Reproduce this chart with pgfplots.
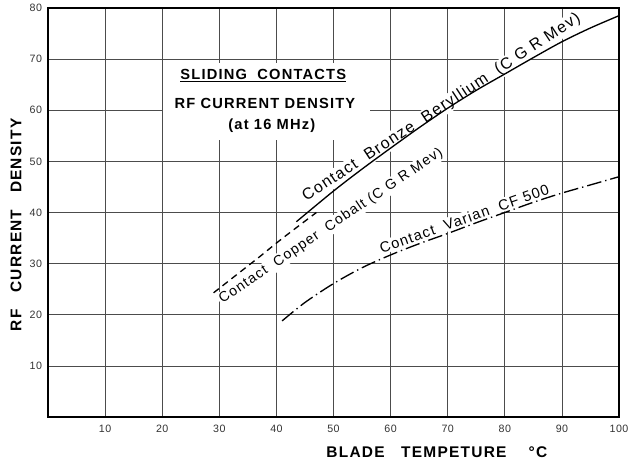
\documentclass[border=0pt]{standalone}
\usepackage{fontspec}
\setmainfont{Liberation Sans}
\newfontfamily\lsp[LetterSpace=8]{Liberation Sans}
\newfontfamily\tsp[LetterSpace=4]{Liberation Sans}
\usepackage{pgfplots}
\pgfplotsset{compat=1.18}
\pgfplotsset{common/.style={
  at={(0,0)}, anchor=south west,
  scale only axis, width=428.25pt, height=306.75pt,
  xmin=0, xmax=100, ymin=0, ymax=80}}
\begin{document}
\begin{tikzpicture}
\path[use as bounding box] (-36pt,-33.75pt) rectangle (441pt,312.75pt);
\begin{axis}[
  common,
  xtick={10,20,...,100}, ytick={10,20,...,80},
  major tick length=0pt,
  grid=major, grid style={line width=0.5pt, black!70},
  axis line style={line width=1.4pt},
  /pgf/number format/assume math mode=true,
  tick label style={font=\tsp\fontsize{8}{9}\selectfont, text=black!80},
  xticklabel style={yshift=-2.5pt},
  yticklabel style={xshift=-1pt},
  xlabel={\lsp\bfseries BLADE\ \ \ TEMPETURE\ \ \ \ °C},
  ylabel={\lsp\bfseries RF\ \ \ CURRENT\ \ \ DENSITY},
  label style={font=\fontsize{11.6}{13}\selectfont},
  xlabel style={at={(axis description cs:0.681,-0.086)}, anchor=center},
  ylabel style={at={(axis description cs:-0.056,0.47)}, anchor=center},
]
% white background of the title block (breaks the grid like the original)
\fill[white] (axis cs:20.1,54.2) rectangle (axis cs:56.4,69.2);
\node[font=\lsp\bfseries\fontsize{11}{13}\selectfont, anchor=center] at (axis cs:37.7,66.7) {\underline{SLIDING\ \ CONTACTS}};
\node[font=\lsp\bfseries\fontsize{11}{13}\selectfont, anchor=center] at (axis cs:38.0,61.3) {RF\ CURRENT\ DENSITY};
\node[font=\lsp\bfseries\fontsize{11}{13}\selectfont, anchor=center] at (axis cs:39.2,57.0) {(at 16 MHz)};
% curve labels
\node[font=\lsp\fontsize{12}{14}\selectfont, rotate=33.3, anchor=base west, inner sep=1pt, fill=white] at (axis cs:45.0,42.0) {Contact\ \ Bronze\ \ Beryllium\ \ (C G R Mev)};
\node[font=\lsp\fontsize{10.6}{13}\selectfont, rotate=34, anchor=north west, inner sep=1pt, fill=white] at (axis cs:29.2,23.9) {Contact\ \ Copper\ \ Cobalt\ (C G R Mev)};
\node[font=\lsp\fontsize{11}{13}\selectfont, rotate=19.5, anchor=south west, inner sep=1pt, fill=white] at (axis cs:58.3,31.6) {Contact\ \ Varian\ \ CF 500};
\end{axis}
\begin{axis}[common, hide axis]
\addplot[black, line width=1pt, smooth] coordinates {
 (43.5,38.2) (50,44.2) (55,48.5) (60,52.6) (65,56.6) (70,60.4)
 (75,63.9) (80,67.1) (85,70.3) (90,73.4) (95,76.1) (100,78.5)};
\addplot[black, line width=1pt, smooth, dash pattern=on 5pt off 3.5pt] coordinates {
 (29,24.3) (33,27.8) (37,31.3) (41,34.9) (47,40.0)};
\addplot[black, line width=1pt, smooth, dash pattern=on 11pt off 3pt on 1pt off 3pt] coordinates {
 (41,18.8) (45,22.4) (50,26.1) (55,29.2) (60,31.7) (65,33.9) (70,35.9)
 (75,38.0) (80,40.0) (85,42.0) (90,43.8) (95,45.4) (100,47.0)};
\end{axis}
\end{tikzpicture}
\end{document}
